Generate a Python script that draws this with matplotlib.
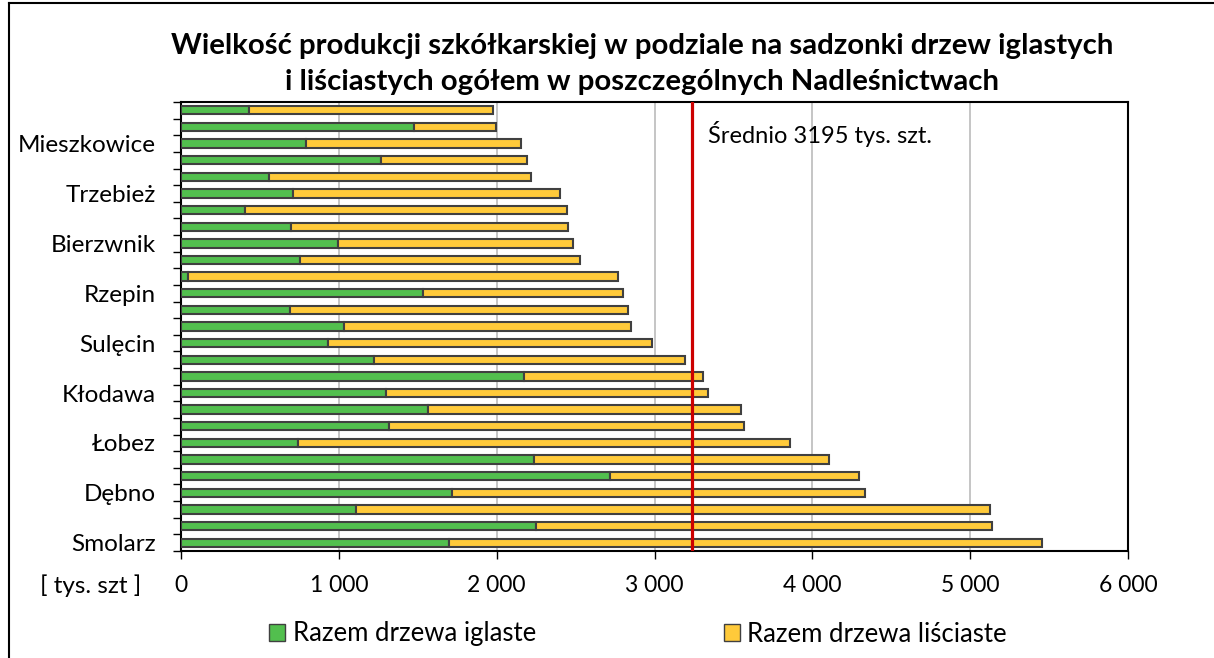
import matplotlib
matplotlib.use("Agg")
import matplotlib.pyplot as plt
import numpy as np
from matplotlib.lines import Line2D
from matplotlib.patches import Patch

plt.rcParams['font.family'] = ['Lato', 'DejaVu Sans']

# Data (bottom to top)
categories = ["Smolarz", "", "", "Dębno", "", "", "Łobez", "", "", "Kłodawa", "", "",
              "Sulęcin", "", "", "Rzepin", "", "", "Bierzwnik", "", "", "Trzebież", "", "",
              "Mieszkowice", "", ""]
iglaste = [1695, 2249, 1109, 1717, 2716, 2237, 742, 1320, 1563, 1298, 2176, 1221, 934, 1033,
           693, 1532, 46, 751, 997, 698, 404, 710, 557, 1264, 790, 1476, 433]
lisciaste = [3760, 2892, 4015, 2616, 1582, 1868, 3116, 2244, 1984, 2038, 1131, 1971, 2049, 1817,
             2140, 1269, 2721, 1778, 1485, 1753, 2039, 1692, 1660, 929, 1364, 518, 1544]
mean_line = 3240
mean_label = "Średnio 3195 tys. szt."
xticks = [0, 1000, 2000, 3000, 4000, 5000, 6000]
xticklabels = ["0", "1 000", "2 000", "3 000", "4 000", "5 000", "6 000"]
series_names = ["Razem drzewa iglaste", "Razem drzewa liściaste"]
title = "Wielkość produkcji szkółkarskiej w podziale na sadzonki drzew iglastych\ni liściastych ogółem w poszczególnych Nadleśnictwach"

green = '#52BF4E'
yellow = '#FFCA3A'
edge = '#404040'

fig = plt.figure(figsize=(12.14, 6.58), dpi=100)
ax = fig.add_axes([181/1214, 1-551/658, (1128-181)/1214, (551-102)/658])

y = np.arange(len(categories))
h = 0.5
ax.barh(y, iglaste, height=h, color=green, edgecolor=edge, linewidth=1.5, zorder=3)
ax.barh(y, lisciaste, left=iglaste, height=h, color=yellow, edgecolor=edge, linewidth=1.5, zorder=3)

ax.set_xlim(0, 6000)
ax.set_ylim(-0.5, len(categories) - 0.5)
ax.set_xticks(xticks)
ax.set_xticklabels(xticklabels, fontsize=16.5)
ax.tick_params(axis='x', length=6, width=1, direction='out', pad=11)

lab_pos = [i for i, c in enumerate(categories) if c]
ax.set_yticks(lab_pos)
ax.set_yticklabels([categories[i] for i in lab_pos], fontsize=17.5)
ax.set_yticks(np.arange(-0.5, len(categories)), minor=True)
ax.tick_params(axis='y', which='major', length=0, pad=18)
ax.tick_params(axis='y', which='minor', length=6, width=1, direction='out')

ax.grid(axis='x', color='#C0C0C0', linewidth=1.3, zorder=0)
for s in ax.spines.values():
    s.set_linewidth(1.5)
    s.set_color('black')

ax.axvline(mean_line, color='#CC0000', linewidth=2.3, zorder=4)
ax.text(mean_line + 100, 24.6, mean_label, fontsize=17, va='center', ha='left')

fig.text(0.529, 1-64/658, title, ha='center', va='center', fontsize=21.2, fontweight='bold',
         linespacing=1.45)
fig.text(91/1214, 1-586/658, "[ tys. szt ]", ha='center', va='center', fontsize=17.5)

handles = [Patch(facecolor=green, edgecolor=edge, linewidth=1.0),
           Patch(facecolor=yellow, edgecolor=edge, linewidth=1.0)]
fig.legend(handles, series_names, loc='center', bbox_to_anchor=(638/1214, 1-634/658), ncol=2,
           frameon=False, fontsize=18.5, handlelength=0.64, handleheight=0.64, handletextpad=0.29,
           columnspacing=7.3)

# outer frame
fig.add_artist(Line2D([9/1214, 1], [1-3/658, 1-3/658], color='black', linewidth=1.5,
                      transform=fig.transFigure))
fig.add_artist(Line2D([9/1214, 9/1214], [0, 1-3/658], color='black', linewidth=1.5,
                      transform=fig.transFigure))

fig.savefig("out.png", dpi=100)
